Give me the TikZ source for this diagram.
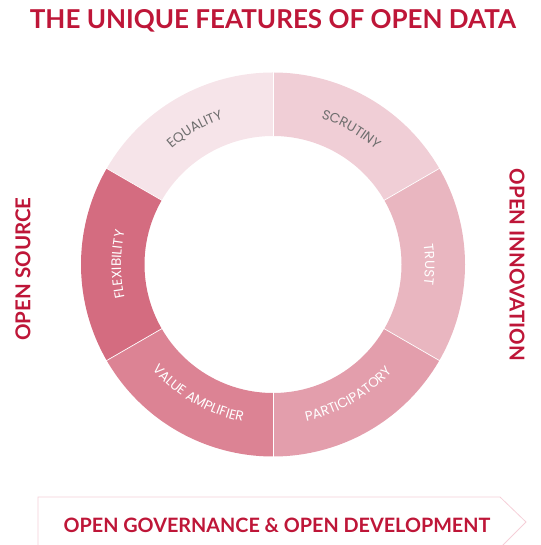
\documentclass[tikz,border=0pt]{standalone}
\usepackage{fontspec}
\usetikzlibrary{decorations.text}
\setmainfont{Lato}
\newfontfamily\labelfont{Poppins}
\definecolor{odred}{RGB}{190,22,56}
\definecolor{segA}{HTML}{F6E4E9}
\definecolor{segB}{HTML}{F0CED6}
\definecolor{segC}{HTML}{E9B6C0}
\definecolor{segD}{HTML}{E39EAC}
\definecolor{segE}{HTML}{DC8394}
\definecolor{segF}{HTML}{D46C80}
\definecolor{graytxt}{HTML}{6E6E6E}
\definecolor{arrowline}{HTML}{F5CFD8}
\newcommand{\lblfmt}{\labelfont\fontsize{13.5}{15}\selectfont}
\tikzset{
  heading/.style={text=odred, font=\bfseries\fontsize{26}{30}\selectfont, inner sep=0pt},
  sidehead/.style={text=odred, font=\bfseries\fontsize{20.5}{25}\selectfont, inner sep=0pt},
  arclabel/.style 2 args={decorate, decoration={text along path, text align=center,
      text color=#2, text={|\lblfmt|#1}}},
  seplines/.style={white, line width=0.7pt},
}
\newcommand{\ringseg}[3]{%
  \fill[#3] (#1:192) arc[start angle=#1, end angle=#2, radius=192]
    -- (#2:128.5) arc[start angle=#2, end angle=#1, radius=128.5] -- cycle;}
\begin{document}
\begin{tikzpicture}[x=1pt,y=1pt]
\useasboundingbox (0,0) rectangle (540,545);
% title
\node[heading] (title) at (273,524.5) {THE UNIQUE FEATURES OF OPEN DATA};
% ring
\begin{scope}[shift={(273,280.5)}]
  \ringseg{90}{150}{segA}
  \ringseg{30}{90}{segB}
  \ringseg{-30}{30}{segC}
  \ringseg{-90}{-30}{segD}
  \ringseg{210}{270}{segE}
  \ringseg{150}{210}{segF}
  \foreach \a in {90,30,-30,-90,210,150}
    \draw[seplines] (\a:128) -- (\a:192.5);
  \path[arclabel={EQUALITY}{graytxt}] (150:154) arc[start angle=150, end angle=90, radius=154];
  \path[arclabel={SCRUTINY}{graytxt}] (90:154) arc[start angle=90, end angle=30, radius=154];
  \path[arclabel={TRUST}{white}] (30:152) arc[start angle=30, end angle=-30, radius=152];
  \path[arclabel={PARTICIPATORY}{white}] (270:160) arc[start angle=270, end angle=330, radius=160];
  \path[arclabel={VALUE AMPLIFIER}{white}] (210:160) arc[start angle=210, end angle=270, radius=160];
  \path[arclabel={FLEXIBILITY}{white}] (210:152) arc[start angle=210, end angle=150, radius=152];
\end{scope}
% side headings
\node[sidehead, rotate=90] (opensource) at (23,276) {OPEN SOURCE};
\node[sidehead, rotate=-90] (openinnov) at (517,280) {OPEN INNOVATION};
% bottom arrow banner
\draw[arrowline, line width=0.8pt] (38,-3) -- (38,48) -- (500,48) -- (526,23) -- (500,-3);
\node[sidehead, font=\bfseries\fontsize{19.8}{23}\selectfont] (bottom) at (277,20) {OPEN GOVERNANCE \& OPEN DEVELOPMENT};
\end{tikzpicture}
\end{document}
